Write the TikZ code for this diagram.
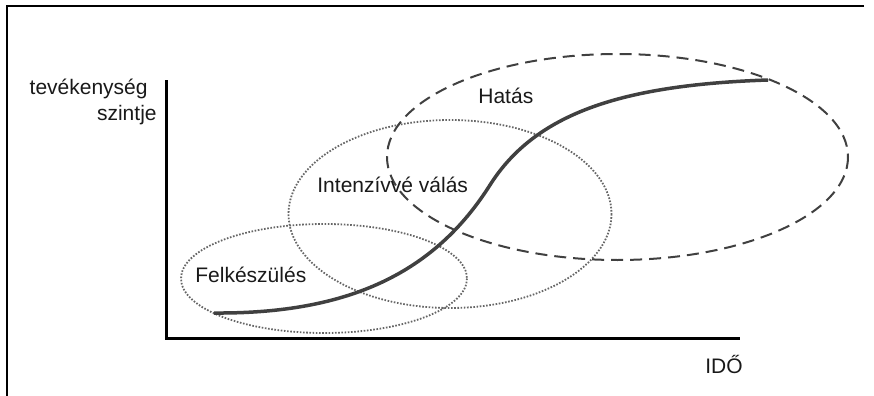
\documentclass[tikz,border=0pt]{standalone}
\usepackage{fontspec}
\setmainfont{Liberation Sans}

\begin{document}
\begin{tikzpicture}[x=0.5pt, y=-0.5pt,
    txt/.style={font=\fontsize{10.5}{12}\selectfont, text=black!90, inner sep=0pt},
    phase/.style={draw=black!60, line width=0.9pt, dash pattern=on 0.8pt off 0.8pt},
    impact/.style={draw=black!75, line width=1pt, dash pattern=on 6pt off 3.5pt},
    axis/.style={draw=black, line width=1.5pt}]
    \useasboundingbox (0,0) rectangle (874,396);
    \draw[line width=1.25pt] (864,6) -- (7,6) -- (7,396);
    \draw[axis] (166,80) -- (166,338) -- (740,338);
    \draw[phase] (324,278.5) ellipse (143 and 54.5);
    \draw[phase] (450,214) ellipse (161.5 and 94);
    \draw[impact] (617.5,157) ellipse (230.5 and 103);
    \draw[black!75, line width=1.75pt] (214,313) .. controls (350,314) and (435,272) .. (490,185)
        .. controls (535,114) and (620,85) .. (768,80);
    \node[txt, anchor=base east] (level1) at (148,94) {tevékenység};
    \node[txt, anchor=base east] (level2) at (157,120) {szintje};
    \node[txt, anchor=base west] (impact) at (478,103) {Hatás};
    \node[txt, anchor=base west] (growth) at (317,192) {Intenzívvé válás};
    \node[txt, anchor=base west] (prep) at (195,282) {Felkészülés};
    \node[txt, anchor=base west] (time) at (705,373) {IDŐ};
\end{tikzpicture}
\end{document}
